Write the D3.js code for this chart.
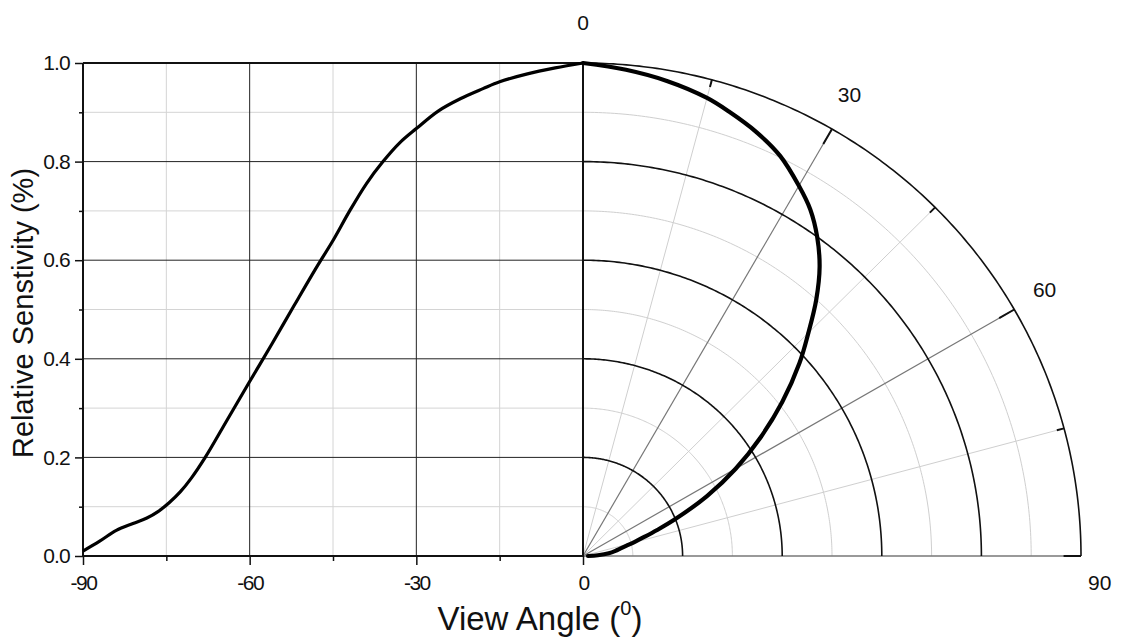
<!DOCTYPE html>
<html>
<head>
<meta charset="utf-8">
<script src="https://cdn.jsdelivr.net/npm/d3@7"></script>
<style>
  body { margin: 0; background: #fff; }
  text { font-family: "Liberation Sans", Arial, sans-serif; fill: #111; }
</style>
</head>
<body>
<div id="chart"></div>
<script>
// view angle (deg) and relative sensitivity
var angles = [-90, -87, -84, -81, -78.5, -76.5, -74.5, -72.5, -70.5, -68, -64, -60, -56, -52, -48, -45, -42, -39, -36, -33, -30, -26, -22, -18, -15, -10, -5, 0];
var sensitivity = [0.01, 0.03, 0.052, 0.066, 0.077, 0.09, 0.108, 0.13, 0.158, 0.2, 0.277, 0.354, 0.43, 0.508, 0.585, 0.64, 0.70, 0.755, 0.80, 0.838, 0.867, 0.903, 0.928, 0.948, 0.962, 0.978, 0.99, 1.0];

var xMajor = [-90, -60, -30, 0];
var xMinor = [-75, -45, -15];
var yMajor = [0, 0.2, 0.4, 0.6, 0.8, 1.0];
var yMinor = [0.1, 0.3, 0.5, 0.7, 0.9];
var polarMajor = [0, 30, 60, 90];
var polarMinor = [15, 45, 75];

var W = 1127, H = 639;
var margin = {left: 83, top: 63};
var plotW = 500, plotH = 493;

var svg = d3.select("#chart").append("svg")
  .attr("width", W).attr("height", H);
svg.append("rect").attr("width", W).attr("height", H).attr("fill", "#fff");

var x = d3.scaleLinear().domain([-90, 0]).range([margin.left, margin.left + plotW]);
var y = d3.scaleLinear().domain([0, 1]).range([margin.top + plotH, margin.top]);

// polar part shares the origin (0 deg, 0) of the cartesian plot
var cx = x(0), cy = y(0);
var rx = d3.scaleLinear().domain([0, 1]).range([0, 498]);
var ry = d3.scaleLinear().domain([0, 1]).range([0, plotH]);
var px = function(a, r) { return cx + rx(r) * Math.sin(a * Math.PI / 180); };
var py = function(a, r) { return cy - ry(r) * Math.cos(a * Math.PI / 180); };

// ---- cartesian grid
var grid = svg.append("g");
grid.selectAll(".vmin").data(xMinor).enter().append("line")
  .attr("x1", x).attr("x2", x).attr("y1", y(0)).attr("y2", y(1))
  .attr("stroke", "#d4d4d4").attr("stroke-width", 1);
grid.selectAll(".hmin").data(yMinor).enter().append("line")
  .attr("x1", x(-90)).attr("x2", x(0)).attr("y1", y).attr("y2", y)
  .attr("stroke", "#d4d4d4").attr("stroke-width", 1);
grid.selectAll(".vmaj").data(xMajor.slice(1, 3)).enter().append("line")
  .attr("x1", x).attr("x2", x).attr("y1", y(0)).attr("y2", y(1))
  .attr("stroke", "#222").attr("stroke-width", 1);
grid.selectAll(".hmaj").data(yMajor.slice(1, 5)).enter().append("line")
  .attr("x1", x(-90)).attr("x2", x(0)).attr("y1", y).attr("y2", y)
  .attr("stroke", "#222").attr("stroke-width", 1);

// ---- polar grid
var arcLine = d3.line().x(function(d) { return d[0]; }).y(function(d) { return d[1]; });
var arcPts = function(r) {
  return d3.range(0, 90.01, 0.5).map(function(a) { return [px(a, r), py(a, r)]; });
};
var pg = svg.append("g");
pg.selectAll(".amin").data(yMinor).enter().append("path")
  .attr("d", function(r) { return arcLine(arcPts(r)); })
  .attr("fill", "none").attr("stroke", "#cfcfcf").attr("stroke-width", 1);
pg.selectAll(".rmin").data(polarMinor).enter().append("line")
  .attr("x1", cx).attr("y1", cy)
  .attr("x2", function(a) { return px(a, 1); }).attr("y2", function(a) { return py(a, 1); })
  .attr("stroke", "#cfcfcf").attr("stroke-width", 1);
pg.selectAll(".rmaj").data([30, 60]).enter().append("line")
  .attr("x1", cx).attr("y1", cy)
  .attr("x2", function(a) { return px(a, 1); }).attr("y2", function(a) { return py(a, 1); })
  .attr("stroke", "#777").attr("stroke-width", 1.2);
pg.append("line")
  .attr("x1", cx).attr("y1", cy).attr("x2", px(90, 1)).attr("y2", cy)
  .attr("stroke", "#777").attr("stroke-width", 1.5);
pg.selectAll(".amaj").data(yMajor.slice(1)).enter().append("path")
  .attr("d", function(r) { return arcLine(arcPts(r)); })
  .attr("fill", "none").attr("stroke", "#111").attr("stroke-width", 1.6);

// outer-circle ticks, pointing inward
pg.selectAll(".otick").data(polarMinor.concat([30, 60, 90])).enter().append("line")
  .attr("x1", function(a) { return px(a, 1); }).attr("y1", function(a) { return py(a, 1); })
  .attr("x2", function(a) { var l = a % 30 === 0 ? 0.035 : 0.015; return px(a, 1 - l); })
  .attr("y2", function(a) { var l = a % 30 === 0 ? 0.035 : 0.015; return py(a, 1 - l); })
  .attr("stroke", "#111").attr("stroke-width", 2);

// polar angle labels
pg.selectAll(".plab").data(polarMajor.slice(0, 3)).enter().append("text")
  .attr("x", function(a) { return cx + 533 * Math.sin(a * Math.PI / 180); })
  .attr("y", function(a) { return cy - 533 * Math.cos(a * Math.PI / 180); })
  .attr("dy", "0.35em")
  .attr("text-anchor", "middle")
  .attr("font-size", 21)
  .text(function(a) { return a; });
pg.append("text")
  .attr("x", px(90, 1) + 7).attr("y", cy + 27)
  .attr("dy", "0.35em").attr("font-size", 21)
  .text(polarMajor[3]);

// ---- axes frame
var frame = svg.append("g").attr("stroke", "#111");
frame.append("line").attr("x1", x(-90)).attr("x2", x(-90)).attr("y1", y(0) + 1).attr("y2", y(1)).attr("stroke-width", 2);
frame.append("line").attr("x1", x(-90)).attr("x2", x(0)).attr("y1", y(1)).attr("y2", y(1)).attr("stroke-width", 2);
frame.append("line").attr("x1", x(-90) - 1).attr("x2", x(0)).attr("y1", y(0)).attr("y2", y(0)).attr("stroke-width", 2);
frame.append("line").attr("x1", x(0)).attr("x2", x(0)).attr("y1", y(0) + 1).attr("y2", y(1)).attr("stroke-width", 2);

// x axis (outward ticks)
var xAxis = d3.axisBottom(x).tickValues(xMajor).tickSize(9).tickFormat(function(d) { return String(d); });
var gx = svg.append("g").attr("transform", "translate(0," + y(0) + ")").call(xAxis);
gx.select(".domain").remove();
gx.selectAll(".tick line").attr("stroke", "#111").attr("stroke-width", 1.5);
gx.selectAll(".tick text").attr("font-size", 21).attr("font-family", "Liberation Sans, Arial, sans-serif")
  .attr("fill", "#111").attr("letter-spacing", "-1.5px").attr("y", 19);
var xAxisMinor = d3.axisBottom(x).tickValues(xMinor).tickSize(5).tickFormat("");
var gx2 = svg.append("g").attr("transform", "translate(0," + y(0) + ")").call(xAxisMinor);
gx2.select(".domain").remove();
gx2.selectAll(".tick line").attr("stroke", "#111").attr("stroke-width", 1.5);

// y axis
var yAxis = d3.axisLeft(y).tickValues(yMajor).tickSize(8).tickPadding(5).tickFormat(d3.format(".1f"));
var gy = svg.append("g").attr("transform", "translate(" + x(-90) + ",0)").call(yAxis);
gy.select(".domain").remove();
gy.selectAll(".tick line").attr("stroke", "#111").attr("stroke-width", 1.5);
gy.selectAll(".tick text").attr("font-size", 21).attr("font-family", "Liberation Sans, Arial, sans-serif")
  .attr("fill", "#111").attr("letter-spacing", "-0.8px");
var yAxisMinor = d3.axisLeft(y).tickValues(yMinor).tickSize(4).tickFormat("");
var gy2 = svg.append("g").attr("transform", "translate(" + x(-90) + ",0)").call(yAxisMinor);
gy2.select(".domain").remove();
gy2.selectAll(".tick line").attr("stroke", "#111").attr("stroke-width", 1.5);

// ---- curves
var cart = d3.line()
  .x(function(d, i) { return x(angles[i]); })
  .y(function(d) { return y(d); })
  .curve(d3.curveCatmullRom.alpha(0.5));
svg.append("path").attr("d", cart(sensitivity))
  .attr("fill", "none").attr("stroke", "#000").attr("stroke-width", 3.2)
  .attr("stroke-linejoin", "round");

var polar = d3.line()
  .x(function(d, i) { return px(-angles[i], d); })
  .y(function(d, i) { return py(-angles[i], d); })
  .curve(d3.curveCatmullRom.alpha(0.5));
svg.append("path").attr("d", polar(sensitivity))
  .attr("fill", "none").attr("stroke", "#000").attr("stroke-width", 4.2)
  .attr("stroke-linejoin", "round").attr("stroke-linecap", "round");

// ---- titles
var xt = svg.append("text")
  .attr("x", 540).attr("y", 630)
  .attr("text-anchor", "middle")
  .attr("font-size", 33);
xt.append("tspan").text("View Angle (");
xt.append("tspan").attr("font-size", 20).attr("dy", -15).text("0");
xt.append("tspan").attr("dy", 15).text(")");

svg.append("text")
  .attr("transform", "translate(33,313) rotate(-90)")
  .attr("text-anchor", "middle")
  .attr("font-size", 29)
  .text("Relative Senstivity (%)");
</script>
</body>
</html>
